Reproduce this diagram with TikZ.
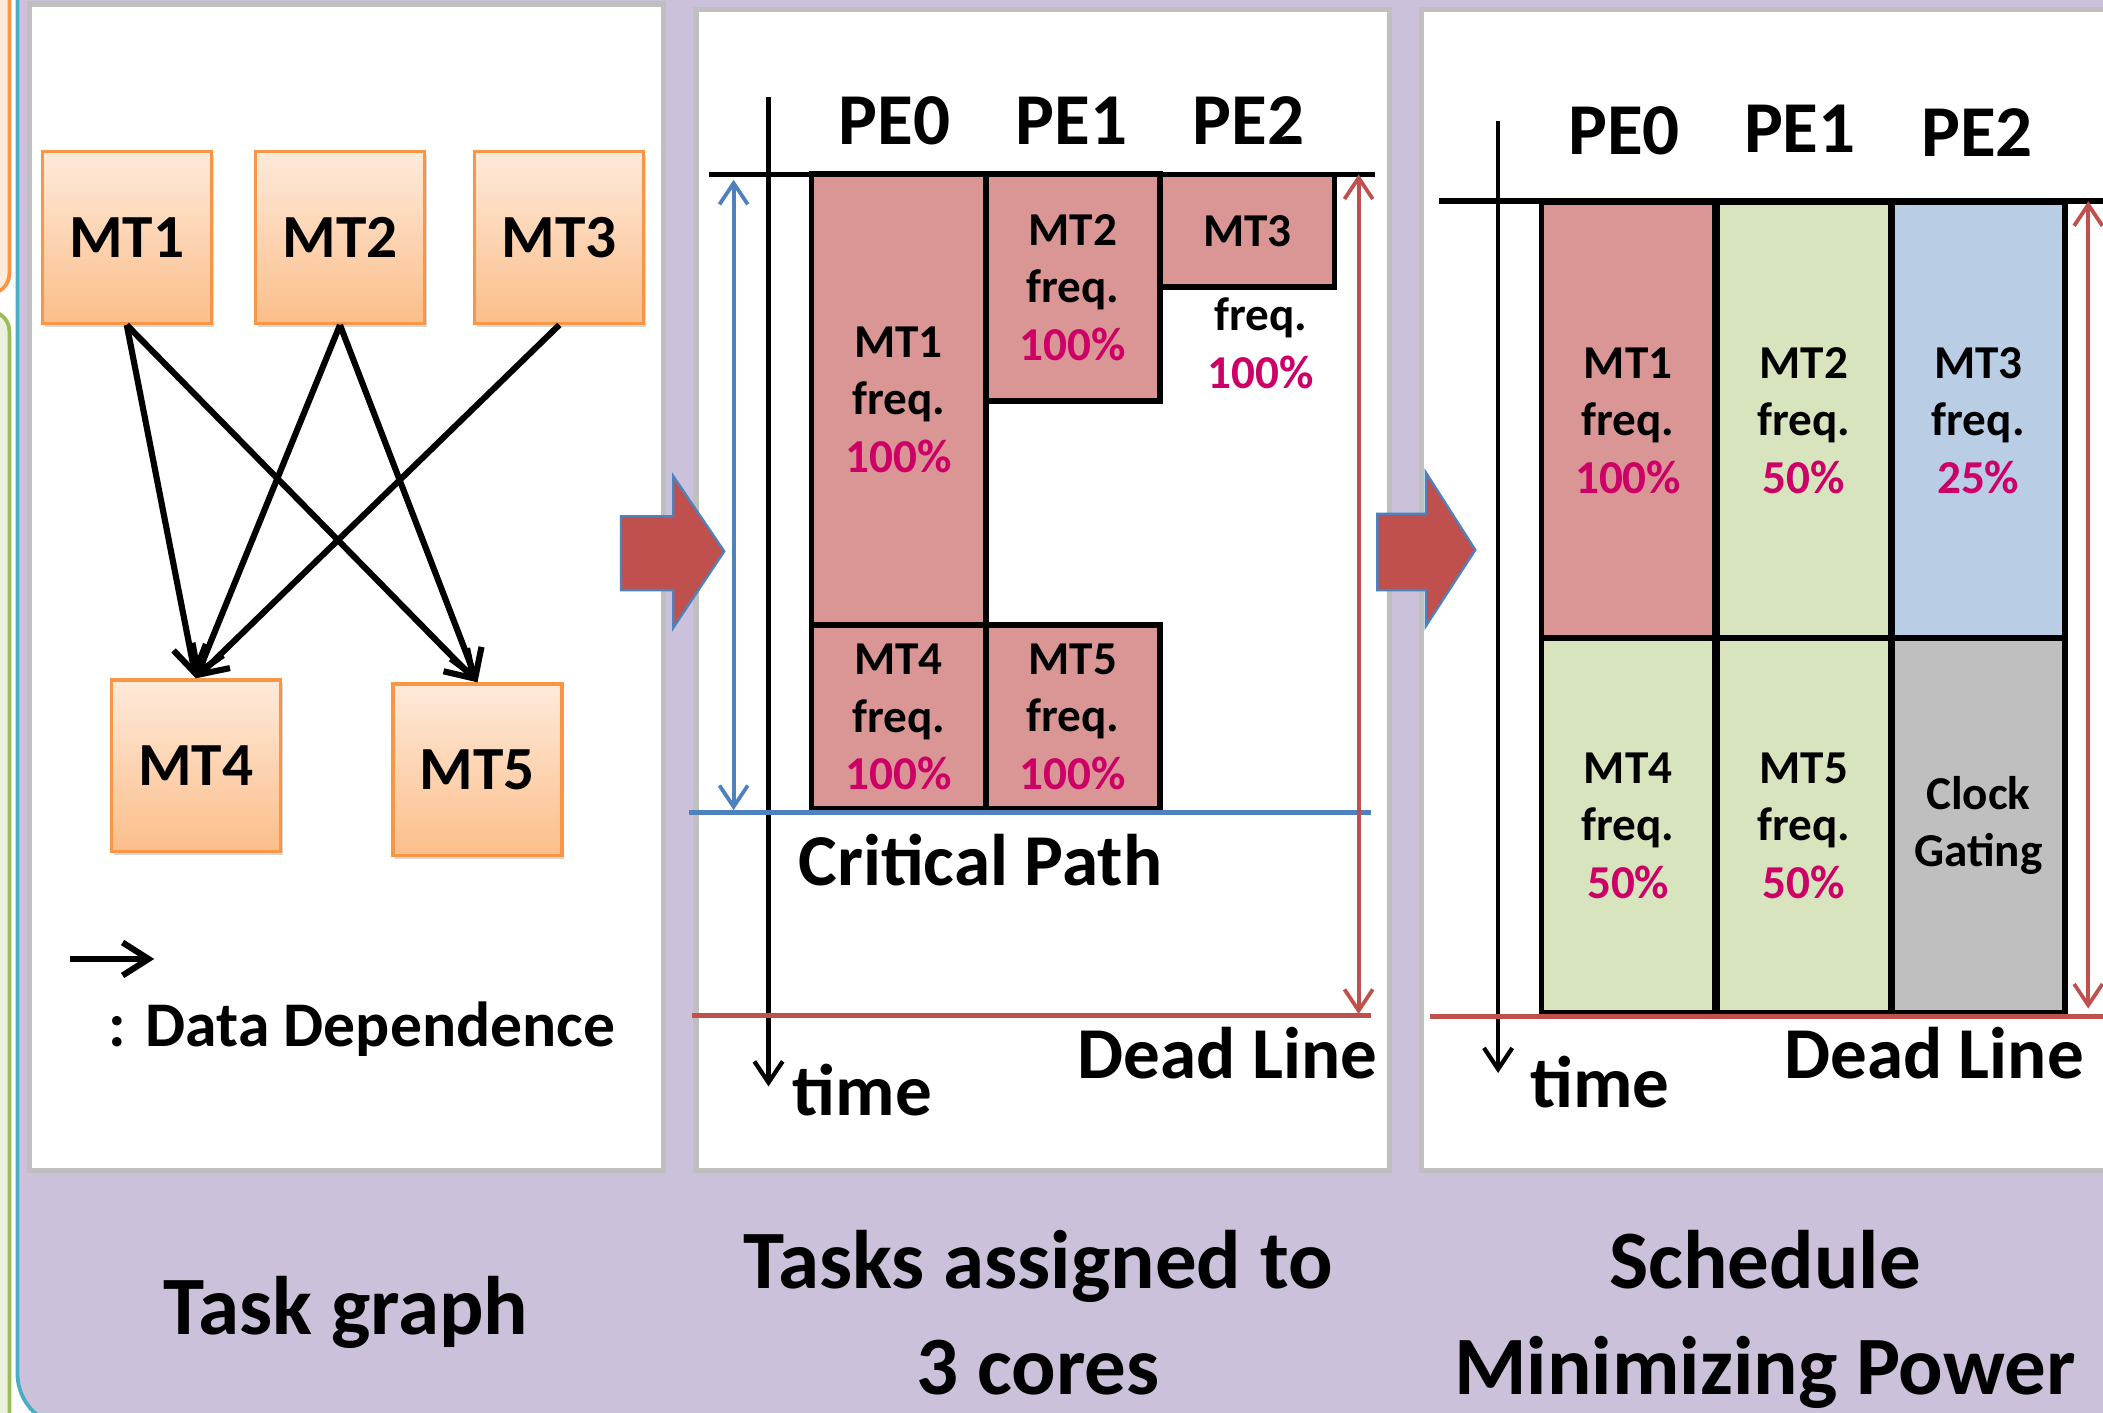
\documentclass[tikz,border=0pt]{standalone}
\usepackage{fontspec}
\setmainfont{Carlito}
\usetikzlibrary{arrows.meta,shadows}

\definecolor{lilac}{RGB}{204,193,218}
\definecolor{frame}{RGB}{191,191,191}
\definecolor{tskline}{RGB}{247,150,70}
\definecolor{tsktop}{RGB}{254,234,218}
\definecolor{tskbot}{RGB}{251,190,138}
\definecolor{pinkblk}{RGB}{217,150,148}
\definecolor{greenblk}{RGB}{215,228,189}
\definecolor{blueblk}{RGB}{185,205,229}
\definecolor{grayblk}{RGB}{191,191,191}
\definecolor{pct}{RGB}{204,0,102}
\definecolor{redln}{RGB}{192,80,77}
\definecolor{blueln}{RGB}{79,129,189}
\definecolor{cyanln}{RGB}{75,172,198}
\definecolor{greenln}{RGB}{155,187,89}
\definecolor{greenbg}{RGB}{235,241,222}

\tikzset{
  task/.style={draw=tskline, line width=0.7pt, top color=tsktop, bottom color=tskbot,
    minimum width=1.26cm, minimum height=1.28cm, inner sep=0pt,
    font=\fontsize{13}{15}\selectfont\bfseries,
    drop shadow={shadow xshift=0.5pt, shadow yshift=-0.7pt, opacity=0.3}},
  blk/.style={draw, line width=1.2pt, inner sep=0pt, align=center, minimum width=1.30cm,
    font=\fontsize{10}{12.2}\selectfont\bfseries},
  dep/.style={->, line width=1.3pt, >={Straight Barb[length=5.5pt,width=7pt]}},
  tline/.style={->, line width=0.9pt, >={Straight Barb[length=4.5pt,width=6pt]}},
  span/.style={<->, line width=0.8pt, >={Straight Barb[length=4.5pt,width=6pt]}},
  panel/.style={fill=white, draw=frame, line width=1.1pt},
  ttl/.style={anchor=base, font=\fontsize{17.6}{21}\selectfont\bfseries},
  lbl/.style={anchor=base, font=\fontsize{15.5}{18}\selectfont\bfseries},
}
\newcommand{\pc}[1]{\textcolor{pct}{#1\%}}

\begin{document}
\begin{tikzpicture}[x=0.01cm, y=-0.01cm, thick]
\useasboundingbox (0,0) rectangle (1568,1053);
\clip (0,0) rectangle (1568,1053);

% what is left of the neighbouring slide content
\draw[draw=tskline, fill=tsktop, rounded corners=0.15cm] (-40,-40) rectangle (7,219);
\draw[draw=greenln, fill=greenbg, rounded corners=0.15cm] (-40,232) rectangle (7,1100);
\draw[draw=cyanln, line width=0.8pt, fill=lilac, rounded corners=0.4cm] (13,-40) rectangle (1640,1064);

% the three white panels
\draw[panel] (22,3) rectangle (495,873);
\draw[panel] (519,7) rectangle (1036,873);
\draw[panel] (1060,7) rectangle (1640,873);

%%% a) task graph
\node[task] (M1) at (94.5,177) {MT1};
\node[task] (M2) at (253.5,177) {MT2};
\node[task] (M3) at (417,177) {MT3};
\node[task] (M4) at (146,571) {MT4};
\node[task] (M5) at (356,574) {MT5};

\draw[dep] (M1.south) -- (M4.north);
\draw[dep] (M1.south) -- (M5.north);
\draw[dep] (M2.south) -- (M4.north);
\draw[dep] (M2.south) -- (M5.north);
\draw[dep] (M3.south) -- (M4.north);

% legend
\coordinate (La) at (52,715);
\coordinate (Lb) at (115,715);
\draw[dep] (La) -- (Lb);
\node[anchor=base, font=\fontsize{13.5}{16}\selectfont\bfseries] (DD) at (270,780) {: Data Dependence};

%%% big arrows between the panels
\filldraw[fill=redln, draw=blueln, line width=0.5pt]
  (463,385) -- (502,385) -- (502,355) -- (540,411) -- (502,468) -- (502,440) -- (463,440) -- cycle;
\filldraw[fill=redln, draw=blueln, line width=0.5pt]
  (1027,383) -- (1063,383) -- (1063,352) -- (1100,410) -- (1063,467) -- (1063,440) -- (1027,440) -- cycle;

%%% b) tasks on 3 cores
\node[lbl] (PA0) at (667,108) {PE0};
\node[lbl] (PA1) at (799,108) {PE1};
\node[lbl] (PA2) at (931,108) {PE2};

\node[blk, fill=pinkblk, minimum height=3.36cm] (A1) at (670,298) {MT1\\freq.\\\pc{100}};
\node[blk, fill=pinkblk, minimum height=1.69cm] (A2) at (800,214.5) {MT2\\freq.\\\pc{100}};
\node[blk, fill=pinkblk, minimum height=0.84cm] (A3) at (930,172) {MT3};
\node[align=center, inner sep=0pt, font=\fontsize{10}{12.2}\selectfont\bfseries] (A3f) at (940,256) {freq.\\\pc{100}};
\node[blk, fill=pinkblk, minimum height=1.37cm] (A4) at (670,534.5) {MT4\\freq.\\\pc{100}};
\node[blk, fill=pinkblk, minimum height=1.37cm] (A5) at (800,534.5) {MT5\\freq.\\\pc{100}};

\coordinate (ta) at (573,72);
\coordinate (tb) at (573,810);
\coordinate (ha) at (529,130);
\coordinate (hb) at (1025,130);
\draw[tline] (ta) -- (tb);
\draw[line width=1.2pt] (ha) -- (hb);

\coordinate (cpa) at (514,606);
\coordinate (cpb) at (1022,606);
\coordinate (cpu) at (547,134);
\coordinate (cpd) at (547,604);
\draw[blueln, line width=1pt] (cpa) -- (cpb);
\draw[span, blueln] (cpu) -- (cpd);

\coordinate (dla) at (516,757);
\coordinate (dlb) at (1022,757);
\coordinate (dlu) at (1013,130);
\coordinate (dld) at (1013,756);
\draw[redln, line width=1pt] (dla) -- (dlb);
\draw[span, redln] (dlu) -- (dld);

\node[lbl] (CP) at (731,660) {Critical Path};
\node[lbl] (DLa) at (915,804) {Dead Line};
\node[lbl] (TMa) at (643,832) {time};

%%% c) power minimizing schedule
\node[lbl] (PB0) at (1211,115) {PE0};
\node[lbl] (PB1) at (1342,114) {PE1};
\node[lbl] (PB2) at (1474,117) {PE2};

\node[blk, fill=pinkblk, minimum width=1.29cm, minimum height=3.25cm] (B1) at (1214,313.5) {MT1\\freq.\\\pc{100}};
\node[blk, fill=greenblk, minimum width=1.29cm, minimum height=3.25cm] (B2) at (1345,313.5) {MT2\\freq.\\\pc{50}};
\node[blk, fill=blueblk, minimum width=1.29cm, minimum height=3.25cm] (B3) at (1475,313.5) {MT3\\freq.\\\pc{25}};
\node[blk, fill=greenblk, minimum width=1.29cm, minimum height=2.79cm] (B4) at (1214,615.5) {MT4\\freq.\\\pc{50}};
\node[blk, fill=greenblk, minimum width=1.29cm, minimum height=2.79cm] (B5) at (1345,615.5) {MT5\\freq.\\\pc{50}};
\node[blk, fill=grayblk, minimum width=1.29cm, minimum height=2.79cm] (CG) at (1475,615.5) {Clock\\Gating};

\coordinate (tc) at (1117,90);
\coordinate (td) at (1117,800);
\coordinate (hc) at (1073,150);
\coordinate (hd) at (1640,150);
\draw[tline] (tc) -- (td);
\draw[line width=1.2pt] (hc) -- (hd);

\coordinate (dlc) at (1066,758);
\coordinate (dle) at (1640,758);
\coordinate (dlv) at (1557,150);
\coordinate (dlw) at (1557,752);
\draw[redln, line width=1pt] (dlc) -- (dle);
\draw[span, redln] (dlv) -- (dlw);

\node[lbl] (DLb) at (1442,804) {Dead Line};
\node[lbl] (TMb) at (1193,826) {time};

%%% titles
\node[ttl] (T1) at (258,995) {Task graph};
\node[ttl] (T2) at (774,961) {Tasks assigned to};
\node[ttl] (T3) at (774,1040) {3 cores};
\node[ttl] (T4) at (1316,961) {Schedule};
\node[ttl] (T5) at (1316,1040) {Minimizing Power};

\end{tikzpicture}
\end{document}
